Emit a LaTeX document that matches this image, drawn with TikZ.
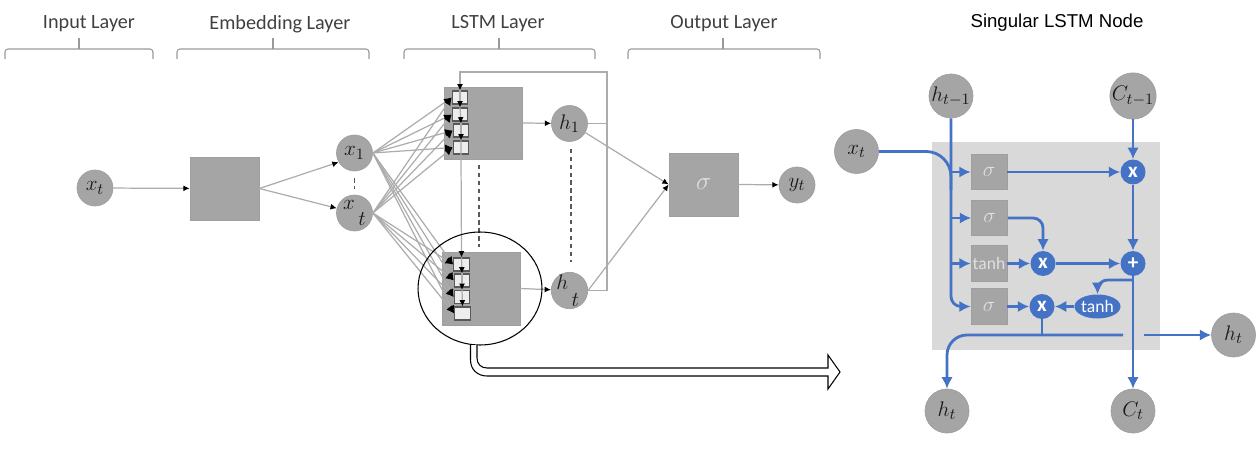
\documentclass[tikz,border=0pt]{standalone}
\usepackage{fontspec}
\setmainfont{Carlito}
\newfontfamily\titlefont{Liberation Sans}
\usetikzlibrary{arrows.meta,shapes.geometric}

\definecolor{boxgray}{HTML}{A5A5A5}
\definecolor{panelgray}{HTML}{D9D9D9}
\definecolor{linkblue}{HTML}{4472C4}
\definecolor{labelgray}{HTML}{404040}

\tikzset{
    varnode/.style={circle,fill=boxgray,draw=gray!75,line width=.4pt,inner sep=0pt,text=black!90},
    thinvar/.style={varnode,minimum size=.72cm,font=\fontsize{13}{15}\selectfont},
    bigvar/.style={varnode,minimum size=.88cm,font=\fontsize{13}{15}\selectfont},
    graybox/.style={rectangle,fill=boxgray,draw=gray!75,line width=.4pt,inner sep=0pt},
    cellbox/.style={rectangle,fill=white!93!black,draw=black!65,line width=.6pt,inner sep=0pt,minimum width=.31cm,minimum height=.26cm},
    gatebox/.style={graybox,minimum width=.72cm,minimum height=.71cm,text=white!88!black},
    opnode/.style={circle,fill=linkblue,inner sep=0pt,minimum size=.5cm,text=white,font=\bfseries\large},
    layerlabel/.style={text=labelgray,font=\fontsize{11.5}{14}\selectfont},
    link/.style={draw=gray!65,line width=.7pt,-{Latex[black,length=3.6pt,width=3.4pt]}},
    celllink/.style={draw=gray!65,line width=.7pt,-{Latex[black,length=4.4pt,width=4.2pt]}},
    plainlink/.style={draw=gray!65,line width=.7pt},
    dashlink/.style={draw=black!65,line width=.8pt,dash pattern=on 2.5pt off 2pt},
    bluelink/.style={draw=linkblue,line width=1.6pt,-{Latex[length=6.5pt,width=6.5pt]}},
    blueplain/.style={draw=linkblue,line width=1.6pt},
}

\begin{document}
\begin{tikzpicture}[x=.02cm,y=-.02cm]
    \useasboundingbox (0,0) rectangle (1256,449);

    % layer titles and brackets
    \foreach \xa/\xb/\xm/\xt/\name in {5/153/79/89/Input Layer,177/369/273/280/Embedding Layer,404/595/499/498/LSTM Layer,628/820/723/724/Output Layer} {
        \node[layerlabel] at (\xt,24) {\name};
        \draw[gray!80,line width=.6pt,rounded corners=.06cm] (\xa,59) -- (\xa,49) -- (\xb,49) -- (\xb,59);
        \draw[gray!80,line width=.6pt] (\xm,49) -- (\xm,38);
    }

    % network
    \node[thinvar] (inp) at (95,188) {$x_t$};
    \node[graybox,minimum width=1.38cm,minimum height=1.26cm] (embed) at (224.5,188.5) {};
    \node[thinvar] (xone) at (354.5,153) {$x_1$};
    \node[thinvar] (xlast) at (354.5,213) {$x\raisebox{-1.5ex}{$\,t$}$};
    \node[graybox,minimum width=1.56cm,minimum height=1.44cm] (lstma) at (483,123) {};
    \node[graybox,minimum width=1.56cm,minimum height=1.46cm] (lstmb) at (481,288.5) {};
    \node[thinvar] (hone) at (569.5,123.5) {$h_1$};
    \node[thinvar] (hlast) at (569.5,290.5) {\hspace{-2pt}$h\raisebox{-1.5ex}{$\,t$}$};
    \node[graybox,minimum width=1.38cm,minimum height=1.26cm,text=white!88!black,font=\Large] (out) at (703.5,184.5) {$\sigma$};
    \node[thinvar] (yout) at (797,185) {$y_t$};

    \foreach \ii/\yy/\xx in {1/97.5/460,2/114.5/460,3/130.5/461,4/147.5/461} {
        \node[cellbox] (a\ii) at (\xx,\yy) {};
    }
    \foreach \ii/\yy/\xx in {1/264.5/461.5,2/280.5/462,3/297/462,4/313.5/462.5} {
        \node[cellbox] (b\ii) at (\xx,\yy) {};
    }

    \draw[link] (inp) -- (embed);
    \draw[link] (embed.east) -- (xone.210);
    \draw[link] (embed.east) -- (xlast.165);
    \draw[link] (out.east) -- (yout);
    \draw[link] (lstma.east) -- (hone);
    \draw[link] (lstmb.east) -- (hlast);
    \draw[link] (hone.-30) -- (out.west);
    \draw[link] (hlast.east) -- (out.west);
    \foreach \ii in {1,2,3,4} {
        \draw[celllink] (xone.east) -- (a\ii.west);
        \draw[celllink] (xlast.east) -- (a\ii.west);
        \draw[celllink] (xone.east) -- (b\ii.west);
        \draw[celllink] (xlast.east) -- (b\ii.west);
    }
    \draw[link] (hlast.east) -- (607,290.5) -- (607,72) -- (a1.north |- 0,72) -- (a1.north);
    \draw[plainlink] (hone.east) -- (607,123.5);
    \foreach \ii/\jj in {1/2,2/3,3/4} {
        \draw[link] (a\ii.north) -- (a\jj.north);
        \draw[link] (b\ii.north) -- (b\jj.north);
    }
    \draw[link] (a4.north) -- (a4.south) -- (b1.north);

    \coordinate (dasha) at (479,165);
    \coordinate (dashb) at (479,247);
    \draw[dashlink] (dasha) -- (dashb);
    \draw[dashlink,shorten <=.14cm,shorten >=.2cm] ([xshift=.03cm]hone.south) -- ([xshift=.03cm]hlast.north);
    \draw[dashlink,shorten <=.14cm,shorten >=.12cm] (xone.south) -- (xlast.north);

    % zoom circle and hollow arrow
    \node[ellipse,draw=black,line width=.6pt,inner sep=0pt,minimum width=2.48cm,minimum height=2.26cm] (lens) at (480,288.5) {};
    \draw[black,line width=.6pt,fill=white] (470.5,345) -- (470.5,360) .. controls (470.5,370) and (478,376) .. (487,376) -- (828,376) -- (828,389) -- (840,372) -- (828,355) -- (828,368) -- (487,368) .. controls (481,368) and (477,364) .. (477,358) -- (477,345);

    % single node
    \node[font=\titlefont\fontsize{10.6}{13}\selectfont] (celltitle) at (1057,23) {Singular LSTM Node};
    \fill[panelgray] (931.5,142) rectangle (1160,350);

    \node[bigvar] (hprev) at (951,96) {$h_{t-1}$};
    \node[bigvar] (cprev) at (1133,96) {$C_{t-1}$};
    \node[bigvar] (xin) at (856.5,151.5) {$x_t$};
    \node[bigvar] (hright) at (1233.5,335) {$h_t$};
    \node[bigvar] (hdown) at (947,411) {$h_t$};
    \node[bigvar] (cnext) at (1133,411) {$C_t$};

    \node[gatebox,font=\large] (siga) at (989,172) {$\sigma$};
    \node[gatebox,font=\large] (sigb) at (989.5,218) {$\sigma$};
    \node[gatebox] (tanhg) at (989,263.5) {tanh};
    \node[gatebox,font=\large] (sigc) at (989,306.5) {$\sigma$};

    \node[opnode] (mula) at (1133,172) {x};
    \node[opnode] (mulb) at (1043,263.5) {x};
    \node[opnode] (plus) at (1133,263.5) {+};
    \node[opnode] (mulc) at (1042,306.5) {x};
    \node[ellipse,fill=linkblue,inner sep=0pt,minimum width=.82cm,minimum height=.48cm,text=white] (tanhe) at (1097.5,306.5) {tanh};

    \coordinate (gapa) at (1123,335);
    \coordinate (gapb) at (1144,335);
    \coordinate (joinb) at (1042,335);

    \draw[blueplain,rounded corners=.5cm] (xin.east) -- (951,151.5) -- (951,190);
    \draw[bluelink,rounded corners=.2cm] (hprev.south) -- (951,306.5) -- (sigc.west);
    \draw[bluelink] (951,172) -- (siga.west);
    \draw[bluelink] (951,218) -- (sigb.west);
    \draw[bluelink] (951,263.5) -- (tanhg.west);
    \draw[bluelink] (siga.east) -- (mula.west);
    \draw[bluelink,rounded corners=.2cm] (sigb.east) -- (1043,218) -- (mulb.north);
    \draw[bluelink] (tanhg.east) -- (mulb.west);
    \draw[bluelink] (mulb.east) -- (plus.west);
    \draw[bluelink] (cprev.south) -- (mula.north);
    \draw[bluelink] (mula.south) -- (plus.north);
    \draw[bluelink] (plus.south) -- (cnext.north);
    \draw[bluelink,rounded corners=.2cm] (1133,280) -- (1097.5,280) -- (tanhe.north);
    \draw[bluelink] (tanhe.west) -- (mulc.east);
    \draw[bluelink] (sigc.east) -- (mulc.west);
    \draw[blueplain] (mulc.south) -- (joinb);
    \draw[bluelink,rounded corners=.4cm] (gapa) -- (947,335) -- (hdown.north);
    \draw[bluelink] (gapb) -- (hright.west);
\end{tikzpicture}
\end{document}
